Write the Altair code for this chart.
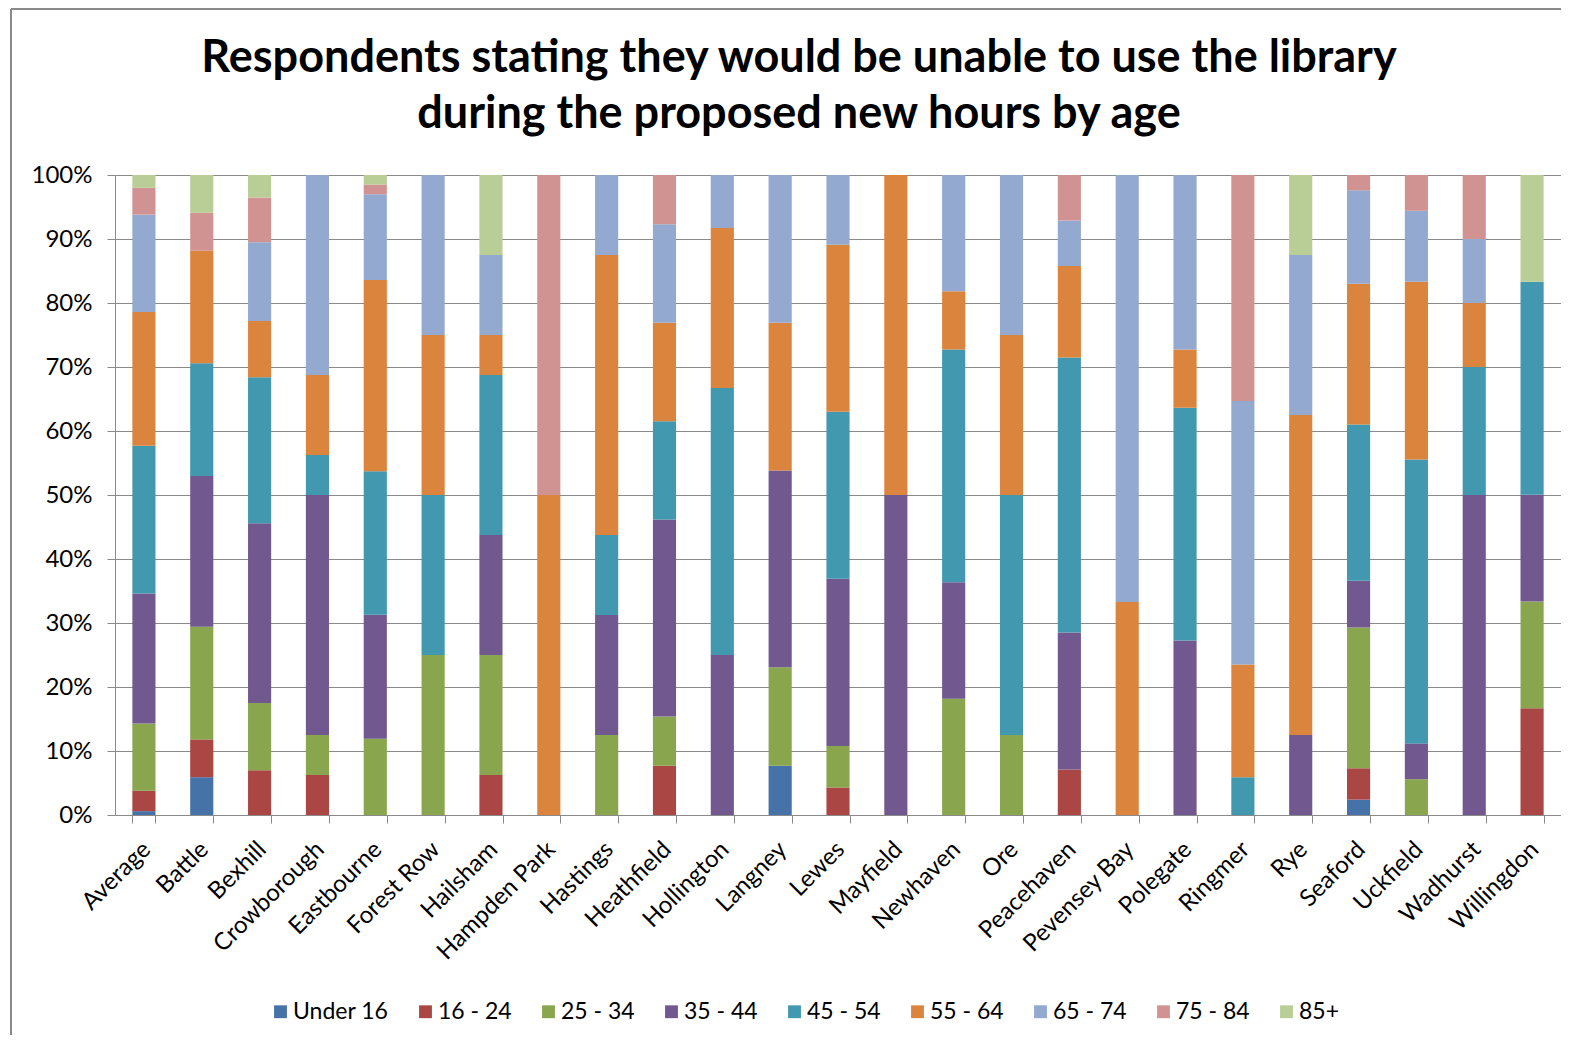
import altair as alt
import pandas as pd

categories = ["Average", "Battle", "Bexhill", "Crowborough", "Eastbourne", "Forest Row",
              "Hailsham", "Hampden Park", "Hastings", "Heathfield", "Hollington", "Langney",
              "Lewes", "Mayfield", "Newhaven", "Ore", "Peacehaven", "Pevensey Bay", "Polegate",
              "Ringmer", "Rye", "Seaford", "Uckfield", "Wadhurst", "Willingdon"]
age_groups = ["Under 16", "16 - 24", "25 - 34", "35 - 44", "45 - 54", "55 - 64",
              "65 - 74", "75 - 84", "85+"]
colors = ["#4572A7", "#AA4643", "#89A54E", "#71588F", "#4198AF", "#DB843D",
          "#93A9CF", "#D19392", "#B9CD96"]

# percentages per age group, one value per library (same order as categories)
under_16 = [0.6, 5.9, 0, 0, 0, 0, 0, 0, 0, 0, 0, 7.7, 0, 0, 0, 0, 0, 0, 0, 0, 0, 2.4, 0, 0, 0]
age_16_24 = [3.2, 5.9, 7.0, 6.25, 0, 0, 6.25, 0, 0, 7.7, 0, 0, 4.3, 0, 0, 0, 7.1, 0, 0, 0, 0, 4.9, 0, 0, 16.7]
age_25_34 = [10.5, 17.6, 10.5, 6.25, 11.9, 25, 18.75, 0, 12.5, 7.7, 0, 15.4, 6.5, 0, 18.2, 12.5, 0, 0, 0, 0, 0, 22.0, 5.6, 0, 16.7]
age_35_44 = [20.3, 23.5, 28.1, 37.5, 19.4, 0, 18.75, 0, 18.75, 30.8, 25, 30.8, 26.1, 50, 18.2, 0, 21.4, 0, 27.3, 0, 12.5, 7.3, 5.6, 50, 16.7]
age_45_54 = [23.1, 17.6, 22.8, 6.25, 22.4, 25, 25, 0, 12.5, 15.4, 41.7, 0, 26.1, 0, 36.4, 37.5, 42.9, 0, 36.4, 5.9, 0, 24.4, 44.4, 20, 33.3]
age_55_64 = [20.9, 17.6, 8.8, 12.5, 29.9, 25, 6.25, 50, 43.75, 15.4, 25, 23.1, 26.1, 50, 9.1, 25, 14.3, 33.3, 9.1, 17.6, 50, 22.0, 27.8, 10, 0]
age_65_74 = [15.2, 0, 12.3, 31.25, 13.4, 25, 12.5, 0, 12.5, 15.4, 8.3, 23.1, 10.9, 0, 18.2, 25, 7.1, 66.7, 27.3, 41.2, 25, 14.6, 11.1, 10, 0]
age_75_84 = [4.2, 5.9, 7.0, 0, 1.5, 0, 0, 50, 0, 7.7, 0, 0, 0, 0, 0, 0, 7.1, 0, 0, 35.3, 0, 2.4, 5.6, 10, 0]
age_85_plus = [2.0, 5.9, 3.5, 0, 1.5, 0, 12.5, 0, 0, 0, 0, 0, 0, 0, 0, 0, 0, 0, 0, 0, 12.5, 0, 0, 0, 16.7]

series = [under_16, age_16_24, age_25_34, age_35_44, age_45_54, age_55_64,
          age_65_74, age_75_84, age_85_plus]

rows = []
for gi, (grp, vals) in enumerate(zip(age_groups, series)):
    for lib, v in zip(categories, vals):
        rows.append({"Library": lib, "Age": grp, "AgeIndex": gi, "Percent": v})
df = pd.DataFrame(rows)

FONT = "Lato"
GRID = "#8a8a8a"

bars = alt.Chart(df).mark_bar().encode(
    x=alt.X("Library:N", sort=categories,
            scale=alt.Scale(paddingInner=0.6, paddingOuter=0.3),
            axis=alt.Axis(title=None, labelAngle=-45, tickBand="extent", ticks=True,
                          tickSize=8, tickColor=GRID, domainColor=GRID, grid=False,
                          labelFont=FONT, labelFontSize=24, labelColor="black",
                          labelPadding=14, labelOffset=-6)),
    y=alt.Y("Percent:Q", stack="normalize", scale=alt.Scale(domain=[0, 1]),
            axis=alt.Axis(title=None, format=".0%",
                          values=[0, 0.1, 0.2, 0.3, 0.4, 0.5, 0.6, 0.7, 0.8, 0.9, 1.0],
                          tickSize=8, tickColor=GRID, domainColor=GRID,
                          gridColor=GRID, gridWidth=1, labelFont=FONT, labelFontSize=24,
                          labelColor="black", labelPadding=15)),
    color=alt.Color("Age:N", sort=age_groups,
                    scale=alt.Scale(domain=age_groups, range=colors),
                    legend=alt.Legend(title=None, orient="none", direction="horizontal",
                                      columns=9, legendX=154, legendY=825,
                                      symbolType="square", symbolSize=165,
                                      symbolStrokeWidth=0, labelFont=FONT,
                                      labelFontSize=23, labelColor="black",
                                      labelOffset=1, columnPadding=25, padding=0)),
    order=alt.Order("AgeIndex:Q", sort="ascending"),
)

frame_df = pd.DataFrame({"k": [0]})
left_border = alt.Chart(frame_df).mark_rule(color="#8a8a8a", strokeWidth=2).encode(
    x=alt.value(-104), y=alt.value(-166), y2=alt.value(900))
top_border = alt.Chart(frame_df).mark_rule(color="#8a8a8a", strokeWidth=2).encode(
    x=alt.value(-104), x2=alt.value(1460), y=alt.value(-166))

chart = alt.layer(bars, left_border, top_border).properties(
    width=1446, height=640,
    padding={"left": 107, "top": 167, "right": 0, "bottom": 220},
    autosize=alt.AutoSizeParams(type="none"),
    title=alt.TitleParams(
        ["Respondents stating they would be unable to use the library",
         "during the proposed new hours by age"],
        font=FONT, fontSize=45, fontWeight="bold", color="black",
        anchor="middle", dx=-39, dy=165, offset=36, lineHeight=56),
).configure_view(strokeOpacity=0)

chart.save("out.html", embed_options={"renderer": "svg", "actions": False})
